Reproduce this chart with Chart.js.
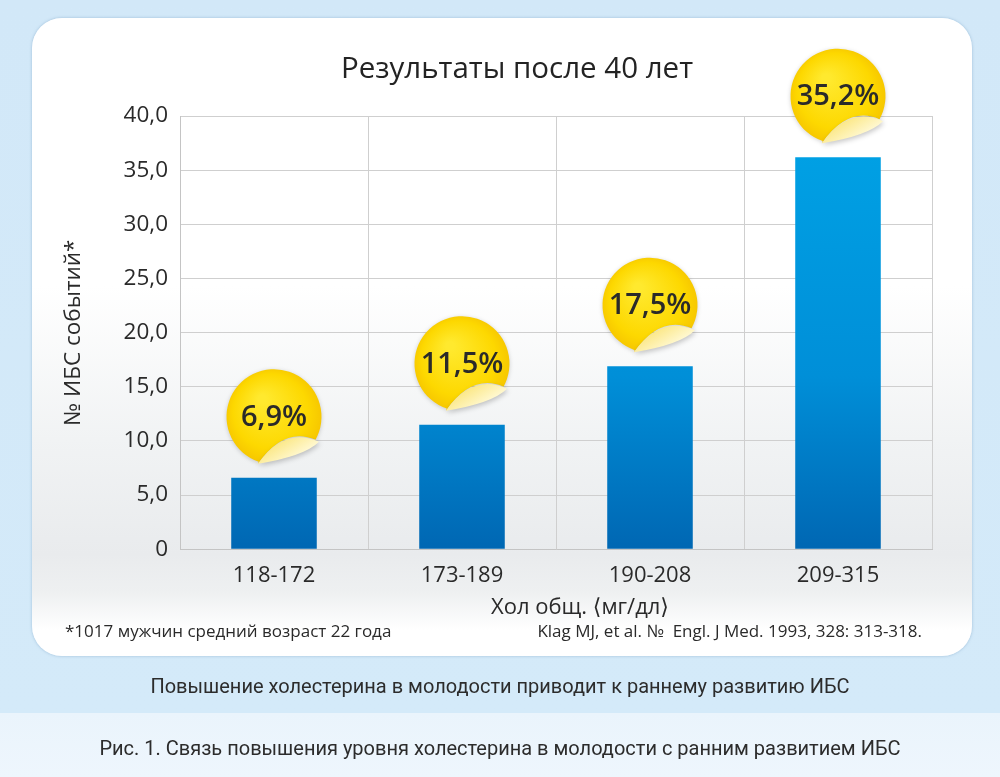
<!DOCTYPE html>
<html>
<head>
<meta charset="utf-8">
<script src="https://cdn.jsdelivr.net/npm/chart.js@4.4.1/dist/chart.umd.min.js"></script>
<style>
  html, body { margin: 0; padding: 0; }
  body {
    width: 1000px; height: 777px; position: relative; overflow: hidden;
    background: linear-gradient(to bottom, #d2e8f8 0px, #d4eaf9 713px, #eaf4fc 713px, #eef6fd 777px);
    font-family: "Open Sans", "DejaVu Sans", sans-serif;
  }
  .card {
    position: absolute; left: 32px; top: 18px; width: 940px; height: 638px;
    border-radius: 30px;
    background: linear-gradient(to bottom, #ffffff 0%, #ffffff 42%, #f1f3f4 66%, #e9ebed 84%, #eef0f1 90%, #ffffff 96%, #ffffff 100%);
    box-shadow: 0 0 3px rgba(110, 150, 185, 0.55);
  }
  canvas { position: absolute; left: 0; top: 0; }
  .caption {
    position: absolute; left: 0; width: 1000px; text-align: center;
    color: #2c2c2c; font-size: 20px; line-height: 26px; font-family: "Roboto", "Open Sans", sans-serif;
  }
</style>
</head>
<body>
<div class="card"></div>
<canvas id="ihdChart" width="1000" height="777"></canvas>
<div class="caption" style="top: 673px;">Повышение холестерина в молодости приводит к раннему развитию ИБС</div>
<div class="caption" style="top: 735px;">Рис. 1. Связь повышения уровня холестерина в молодости с ранним развитием ИБС</div>
<script>
const categories = ["118-172", "173-189", "190-208", "209-315"];
const eventValues = [6.6, 11.5, 16.9, 36.2];
const stickerLabels = ["6,9%", "11,5%", "17,5%", "35,2%"];

const chartTitle = "Результаты после 40 лет";
const yTitle = "№ ИБС событий*";
const xTitle = "Хол общ. ⟨мг/дл⟩";
const footLeft = "*1017 мужчин средний возраст 22 года";
const footRight = "Klag MJ, et al. №  Engl. J Med. 1993, 328: 313-318.";

const fontFamily = '"Open Sans", "DejaVu Sans", sans-serif';

const barGradient = (context) => {
  const { chart } = context;
  const area = chart.chartArea;
  if (!area) return "#0088d4";
  const g = chart.ctx.createLinearGradient(0, area.top, 0, area.bottom);
  g.addColorStop(0, "#00a3e6");
  g.addColorStop(0.6, "#008fd8");
  g.addColorStop(1, "#0067b3");
  return g;
};

// yellow "peeled" stickers above each bar
const stickerPlugin = {
  id: "stickers",
  afterDatasetsDraw(chart) {
    const ctx = chart.ctx;
    const meta = chart.getDatasetMeta(0);
    meta.data.forEach((bar, i) => {
      const r = 47.5;
      const cx = bar.x;
      const cy = bar.y - 61;
      const k = r / 47.5;
      const ax = cx + 45 * k, ay = cy + 25 * k;     // fold start (right)
      const bx = cx - 16 * k, by = cy + 47 * k;     // fold tip (bottom)
      const a1 = Math.atan2(by - cy, bx - cx);
      const a2 = Math.atan2(ay - cy, ax - cx);

      ctx.save();
      ctx.shadowColor = "rgba(0,0,0,0.18)";
      ctx.shadowBlur = 4;
      ctx.shadowOffsetY = 1;
      const fill = ctx.createRadialGradient(cx - 12, cy - 18, 4, cx, cy, r + 4);
      fill.addColorStop(0, "#ffe92e");
      fill.addColorStop(0.7, "#fdd800");
      fill.addColorStop(1, "#f5c300");
      ctx.fillStyle = fill;
      ctx.beginPath();
      ctx.arc(cx, cy, r, a1, a2 + Math.PI * 2, false);
      ctx.quadraticCurveTo(cx + 10.5 * k, cy + 9.5 * k, bx, by);
      ctx.closePath();
      ctx.fill();
      ctx.restore();

      // folded flap
      ctx.save();
      ctx.shadowColor = "rgba(0,0,0,0.22)";
      ctx.shadowBlur = 5;
      ctx.shadowOffsetX = 1;
      ctx.shadowOffsetY = 2;
      const flap = ctx.createLinearGradient(cx + 10 * k, cy + 20 * k, cx + 22 * k, cy + 40 * k);
      flap.addColorStop(0, "#fbe680");
      flap.addColorStop(1, "#fff8cf");
      ctx.fillStyle = flap;
      ctx.beginPath();
      ctx.moveTo(ax, ay);
      ctx.quadraticCurveTo(cx + 10.5 * k, cy + 9.5 * k, bx, by);
      ctx.quadraticCurveTo(cx + 30.5 * k, cy + 39.5 * k, ax, ay);
      ctx.closePath();
      ctx.fill();
      ctx.restore();

      ctx.save();
      ctx.fillStyle = "#2a2a2a";
      ctx.font = "600 29px " + fontFamily;
      ctx.textAlign = "center";
      ctx.textBaseline = "middle";
      ctx.fillText(stickerLabels[i], cx, cy + 1);
      ctx.restore();
    });
  },
};

// x-axis title and footnotes
const notesPlugin = {
  id: "notes",
  afterDraw(chart) {
    const { ctx, chartArea } = chart;
    ctx.save();
    ctx.fillStyle = "#2a2a2a";
    ctx.textBaseline = "middle";
    ctx.font = "22px " + fontFamily;
    ctx.textAlign = "center";
    ctx.fillText(xTitle, (chartArea.left + chartArea.right) / 2 + 24, chartArea.bottom + 59);
    ctx.font = "17px " + fontFamily;
    ctx.textAlign = "left";
    ctx.fillText(footLeft, 65, chartArea.bottom + 83);
    ctx.textAlign = "right";
    ctx.fillText(footRight, chartArea.right - 10, chartArea.bottom + 83);
    ctx.restore();
  },
};

const ctx = document.getElementById("ihdChart").getContext("2d");
const chart = new Chart(ctx, {
  type: "bar",
  data: {
    labels: categories,
    datasets: [
      {
        label: yTitle,
        data: eventValues,
        backgroundColor: barGradient,
        borderWidth: 0,
        categoryPercentage: 1,
        barPercentage: 0.455,
      },
    ],
  },
  options: {
    responsive: false,
    animation: false,
    devicePixelRatio: 1,
    layout: { padding: { left: 60, right: 26, top: 20, bottom: 173.8 } },
    plugins: {
      legend: { display: false },
      tooltip: { enabled: false },
      title: {
        display: true,
        text: chartTitle,
        color: "#232323",
        font: { family: fontFamily, size: 29.5, weight: "normal" },
        padding: { top: 32.3, bottom: 28.3 },
      },
    },
    scales: {
      x: {
        grid: { color: "#cfcfcf", drawTicks: false, offset: true },
        border: { color: "#c4c4c4" },
        ticks: {
          color: "#2a2a2a",
          padding: 13.8,
          font: { family: fontFamily, size: 22 },
        },
      },
      y: {
        min: 0,
        max: 40,
        afterFit: (scale) => { scale.width = 120; },
        grid: { color: "#cfcfcf", drawTicks: false },
        border: { color: "#c4c4c4" },
        ticks: {
          stepSize: 5,
          padding: 12,
          color: "#2a2a2a",
          font: { family: fontFamily, size: 22.5 },
          callback: (v) => (v === 0 ? "0" : v.toFixed(1).replace(".", ",")),
        },
        title: {
          display: true,
          text: yTitle,
          color: "#2a2a2a",
          padding: { top: 0, bottom: 0 },
          font: { family: fontFamily, size: 22.5 },
        },
      },
      y2: {
        position: "right",
        display: true,
        afterFit: (scale) => { scale.width = 42; },
        grid: { display: false },
        border: { display: false },
        ticks: { display: false },
      },
    },
  },
  plugins: [stickerPlugin, notesPlugin],
});
</script>
</body>
</html>
